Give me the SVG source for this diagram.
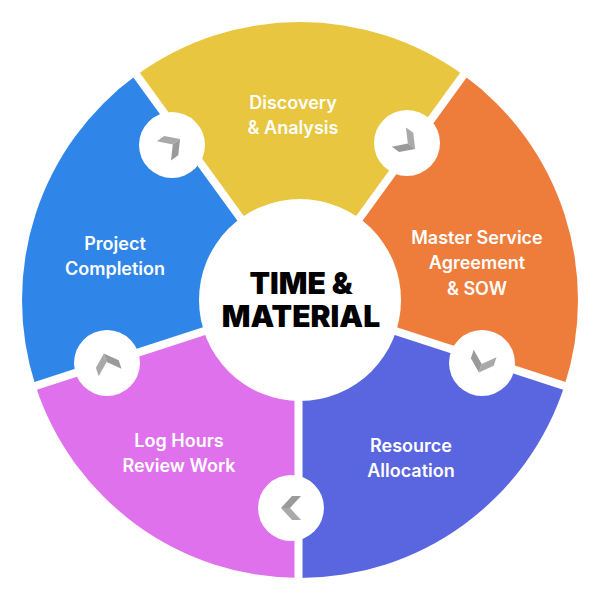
<svg xmlns="http://www.w3.org/2000/svg" width="600" height="600" viewBox="0 0 600 600">
<defs>
<style>
.lbl{font-family:Inter,"Liberation Sans",sans-serif;font-weight:600;font-size:18px;fill:#ffffff;text-anchor:middle}
.title{font-family:Inter,"Liberation Sans",sans-serif;font-weight:900;font-size:30px;fill:#000000;text-anchor:middle}
.gap{stroke:#ffffff;stroke-width:8;fill:none}
.hub{fill:#ffffff}
.a1{fill:#A9A9A9}
.a2{fill:#9A9A9A}
</style>
<g id="chev">
<polygon class="a1" points="-10,-12 -1,-12 10,0 1,0"/>
<polygon class="a2" points="1,0 10,0 -1,12 -10,12"/>
</g>
</defs>
<rect width="600" height="600" fill="#ffffff"/>
<g id="discovery">
<path d="M300,300 L136.60,75.09 A278,278 0 0 1 463.40,75.09 Z" fill="#E8C63F"/>
<text class="lbl" x="293" y="109">Discovery</text>
<text class="lbl" x="293" y="134">&amp; Analysis</text>
</g>
<g id="msa">
<path d="M300,300 L463.40,75.09 A278,278 0 0 1 564.39,385.91 Z" fill="#EE7D3C"/>
<text class="lbl" x="477" y="244">Master Service</text>
<text class="lbl" x="477" y="269">Agreement</text>
<text class="lbl" x="477" y="295">&amp; SOW</text>
</g>
<g id="resource">
<path d="M300,300 L564.39,385.91 A278,278 0 0 1 300,578 Z" fill="#5A66DF"/>
<text class="lbl" x="411" y="452">Resource</text>
<text class="lbl" x="411" y="477">Allocation</text>
</g>
<g id="loghours">
<path d="M300,300 L300,578 A278,278 0 0 1 35.61,385.91 Z" fill="#DF72EC"/>
<text class="lbl" x="179" y="447">Log Hours</text>
<text class="lbl" x="179" y="472">Review Work</text>
</g>
<g id="completion">
<path d="M300,300 L35.61,385.91 A278,278 0 0 1 136.60,75.09 Z" fill="#2F86E8"/>
<text class="lbl" x="115" y="250">Project</text>
<text class="lbl" x="115" y="275">Completion</text>
</g>
<g id="gaps">
<line class="gap" x1="300" y1="300" x2="575.8" y2="389.6"/>
<line class="gap" x1="298.5" y1="300" x2="298.5" y2="590"/>
<line class="gap" x1="300" y1="300" x2="24.2" y2="389.6"/>
<line class="gap" x1="300" y1="300" x2="129.5" y2="65.4"/>
<line class="gap" x1="300" y1="300" x2="470.5" y2="65.4"/>
</g>
<g id="center">
<circle class="hub" cx="300" cy="300" r="101"/>
<text class="title" x="301" y="294">TIME &amp;</text>
<text class="title" x="301" y="327">MATERIAL</text>
</g>
<g id="connectors">
<g transform="translate(172,145)"><circle class="hub" r="33"/><use href="#chev" transform="rotate(-36)"/></g>
<g transform="translate(407,143)"><circle class="hub" r="33"/><use href="#chev" transform="rotate(36)"/></g>
<g transform="translate(482,363)"><circle class="hub" r="33"/><use href="#chev" transform="rotate(108)"/></g>
<g transform="translate(291,508)"><circle class="hub" r="33"/><use href="#chev" transform="rotate(180)"/></g>
<g transform="translate(107,363)"><circle class="hub" r="33"/><use href="#chev" transform="rotate(252)"/></g>
</g>
</svg>
